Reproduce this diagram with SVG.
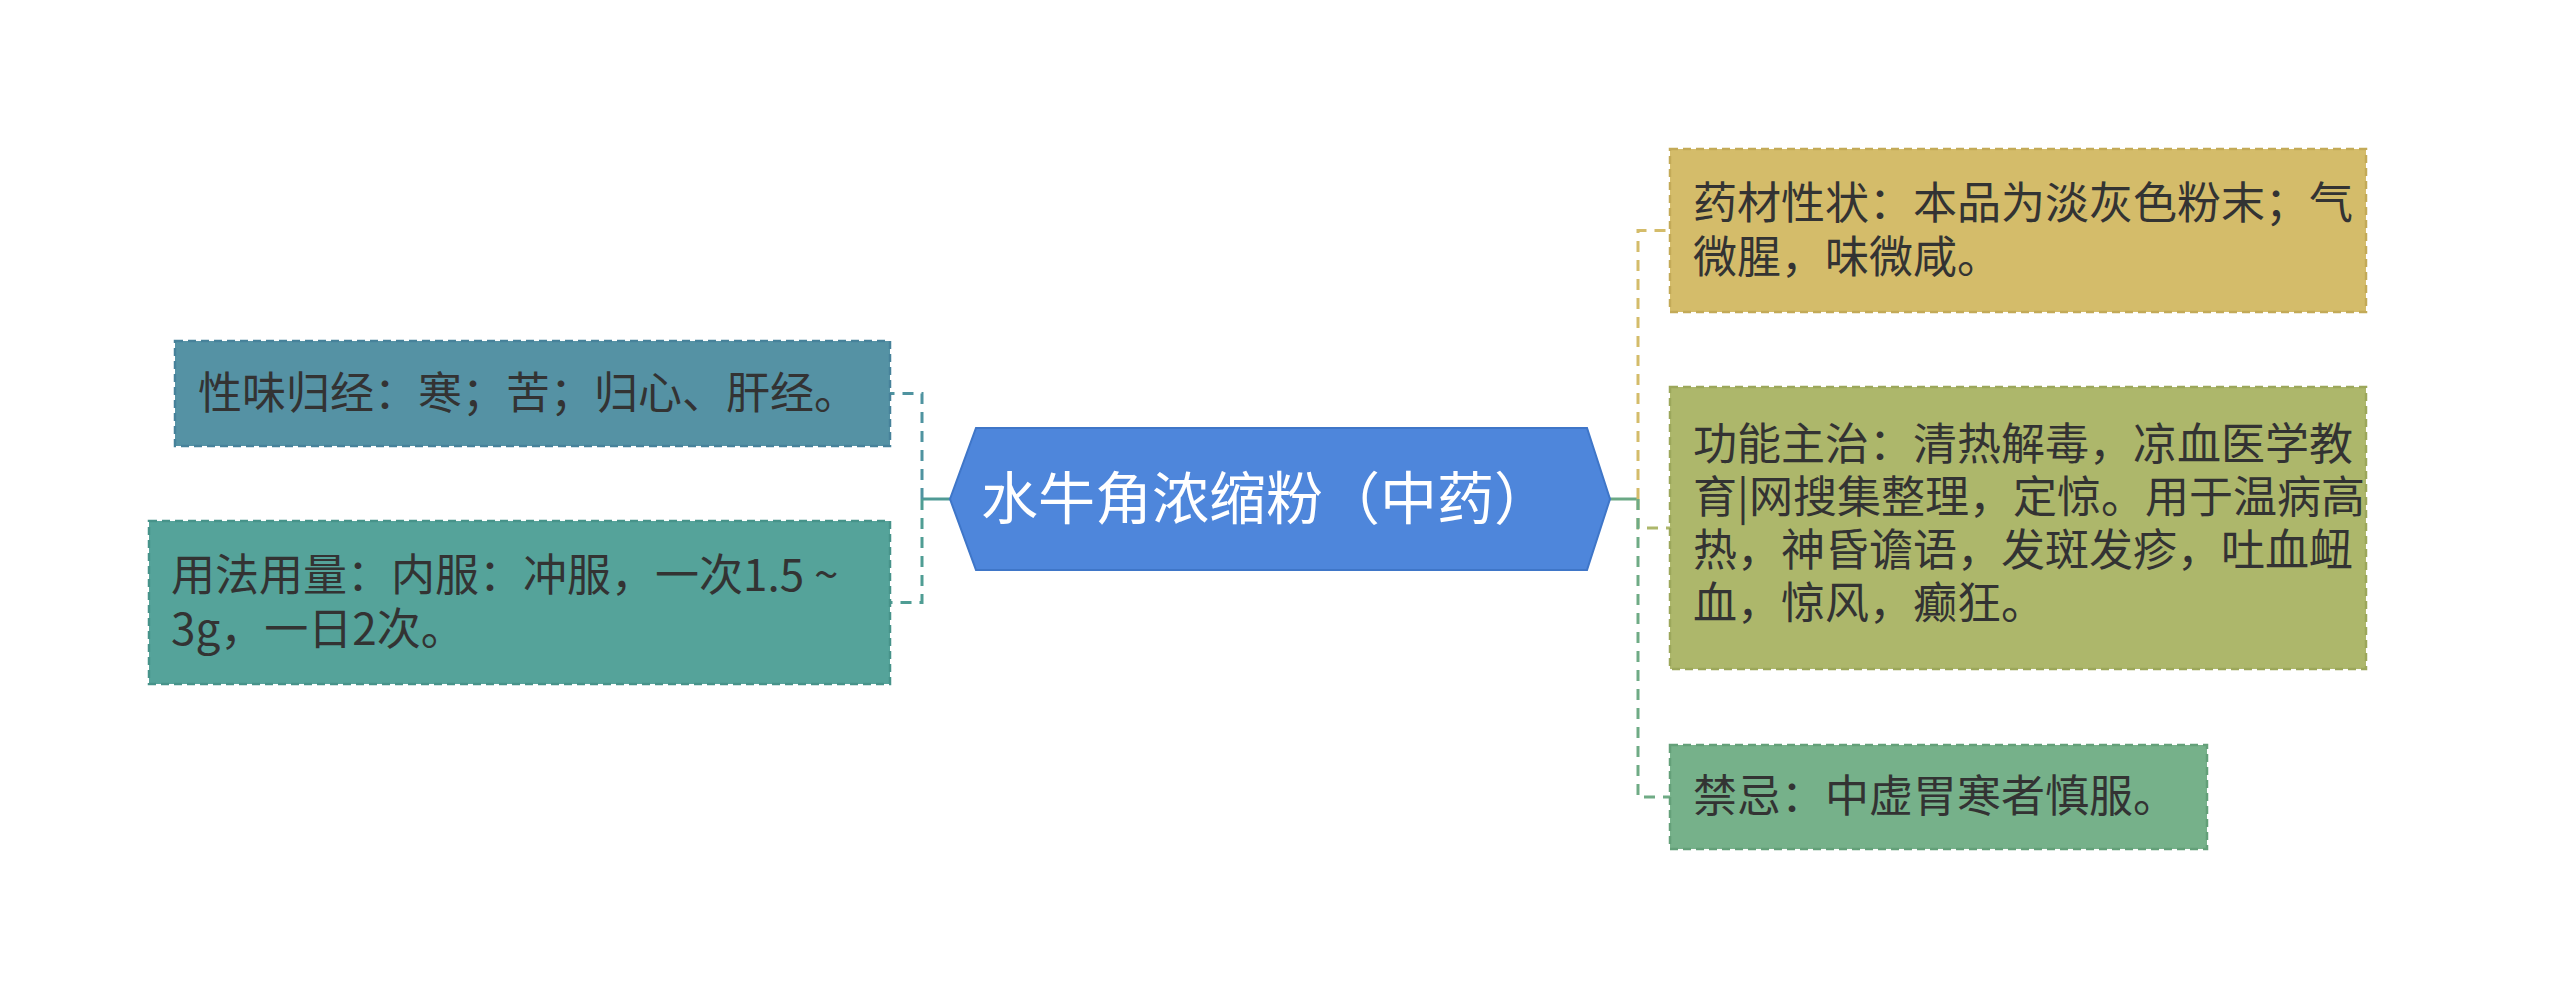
<svg xmlns="http://www.w3.org/2000/svg" width="2560" height="997" viewBox="0 0 2560 997">
<style>
  .t { font-family: "Noto Sans CJK SC", "Noto Sans", sans-serif; font-size: 44px; fill: #333333; }
  .c { font-family: "Noto Sans CJK SC", "Noto Sans", sans-serif; font-size: 57px; fill: #ffffff; }
  .box { stroke-width: 2.5; stroke-dasharray: 8 5; }
  .conn { fill: none; stroke-width: 3; stroke-dasharray: 11 8; }
  .stub { fill: none; stroke-width: 3; }
</style>
<rect width="2560" height="997" fill="#ffffff"/>
<g id="connectors">
  <path class="stub" d="M950,499 H922" stroke="#4f9a95"/>
  <path class="conn" d="M922,499 V393.5 H890" stroke="#4f93a0"/>
  <path class="conn" d="M922,499 V602.5 H890" stroke="#4f9d94"/>
  <path class="stub" d="M1609,499 H1638" stroke="#6aa885"/>
  <path class="conn" d="M1638,499 V230.5 H1670" stroke="#d4bc6a"/>
  <path class="conn" d="M1638,499 V528 H1670" stroke="#adb76b"/>
  <path class="conn" d="M1638,499 V797 H1670" stroke="#6fab85"/>
</g>
<g id="center">
  <polygon points="950,499 976,428 1587,428 1610,499 1587,570 976,570" fill="#4e86db" stroke="#3f76c8" stroke-width="2"/>
  <text class="c" x="981" y="519">水牛角浓缩粉（中药）</text>
</g>
<g id="left1">
  <rect class="box" x="175" y="341" width="715" height="105" fill="#5592a4" stroke="#47829a"/>
  <text class="t" x="198" y="409">性味归经：寒；苦；归心、肝经。</text>
</g>
<g id="left2">
  <rect class="box" x="149" y="521" width="741" height="163" fill="#55a39a" stroke="#47938a"/>
  <text class="t" x="171" y="591"><tspan x="171" y="591">用法用量：内服：冲服，一次1.5 ~</tspan><tspan x="171" y="645">3g，一日2次。</tspan></text>
</g>
<g id="right1">
  <rect class="box" x="1670" y="149" width="696" height="163" fill="#d4bc6a" stroke="#c3aa58"/>
  <text class="t" x="1693" y="219"><tspan x="1693" y="219">药材性状：本品为淡灰色粉末；气</tspan><tspan x="1693" y="273">微腥，味微咸。</tspan></text>
</g>
<g id="right2">
  <rect class="box" x="1670" y="387" width="696" height="282" fill="#adb76b" stroke="#9ca75b"/>
  <text class="t" x="1693" y="460"><tspan x="1693" y="460">功能主治：清热解毒，凉血医学教</tspan><tspan x="1693" y="513">育|网搜集整理，定惊。用于温病高</tspan><tspan x="1693" y="566">热，神昏谵语，发斑发疹，吐血衄</tspan><tspan x="1693" y="619">血，惊风，癫狂。</tspan></text>
</g>
<g id="right3">
  <rect class="box" x="1670" y="745" width="537" height="104" fill="#76b18a" stroke="#64a079"/>
  <text class="t" x="1693" y="812">禁忌：中虚胃寒者慎服。</text>
</g>
</svg>
